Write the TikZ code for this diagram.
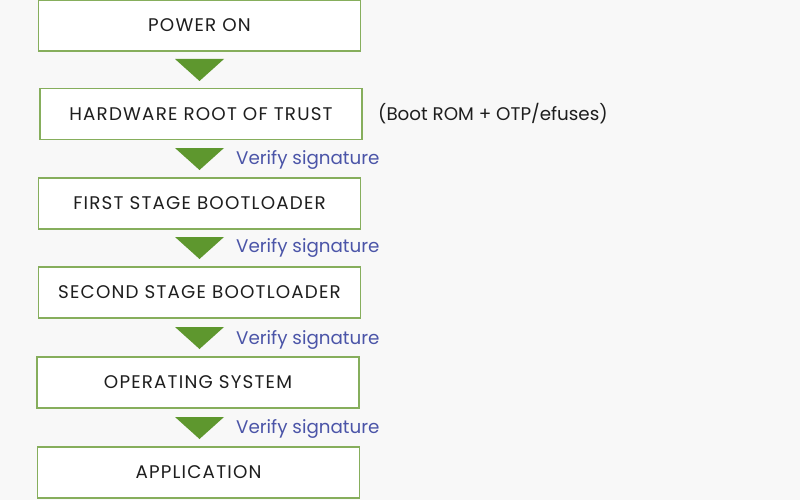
\documentclass[tikz,border=0pt]{standalone}
\usepackage{fontspec}
\setmainfont{Poppins}
\newfontfamily\boxfont[LetterSpace=6.5]{Poppins}
\usetikzlibrary{calc}
\definecolor{bg}{HTML}{F8F8F8}
\definecolor{boxline}{HTML}{86AE5C}
\definecolor{tri}{HTML}{5E972E}
\definecolor{lbl}{HTML}{4B55A8}
\definecolor{txt}{HTML}{1E1E1E}
\tikzset{
  stage/.style={draw=boxline, line width=1.2pt, fill=white, minimum width=322pt, minimum height=51pt, inner sep=0pt, font=\boxfont\fontsize{18.3}{20}\selectfont, text=txt},
  vlabel/.style={anchor=west, text=lbl, font=\fontsize{18.3}{20}\selectfont, inner sep=0pt},
  tri/.style={fill=tri}
}
\begin{document}
\begin{tikzpicture}[x=1pt,y=1pt]
\fill[bg] (0,0) rectangle (800,-500);
\useasboundingbox (0,0) rectangle (800,-500);
\node[stage] (b1) at (199.5,-25.5) {\raisebox{-1pt}{POWER ON}};
\node[stage] (b2) at (201,-114) {\raisebox{-1pt}{HARDWARE ROOT OF TRUST}};
\node[stage] (b3) at (199.5,-203.5) {\raisebox{-1pt}{FIRST STAGE BOOTLOADER}};
\node[stage] (b4) at (199.5,-292.5) {\raisebox{-1pt}{SECOND STAGE BOOTLOADER}};
\node[stage] (b5) at (198,-382.5) {\raisebox{-1pt}{OPERATING SYSTEM}};
\node[stage] (b6) at (198.5,-472.5) {\raisebox{-1pt}{APPLICATION}};
\node[anchor=west, inner sep=0pt, text=txt, font=\fontsize{18.3}{20}\selectfont] (note) at (378,-114) {(Boot ROM + OTP/efuses)};
\foreach \a/\b/\y in {b1/b2/70, b2/b3/159, b3/b4/248, b4/b5/338, b5/b6/428}{
  \coordinate (m\a) at (199.5,-\y);
  \fill[tri] ($(m\a)+(-24.5,11)$) -- ($(m\a)+(24.5,11)$) -- ($(m\a)+(0,-11)$) -- cycle;
}
\node[vlabel] (v2) at (236,-160) {Verify signature};
\node[vlabel] (v3) at (236,-248) {Verify signature};
\node[vlabel] (v4) at (236,-340) {Verify signature};
\node[vlabel] (v5) at (236,-429) {Verify signature};
\end{tikzpicture}
\end{document}
